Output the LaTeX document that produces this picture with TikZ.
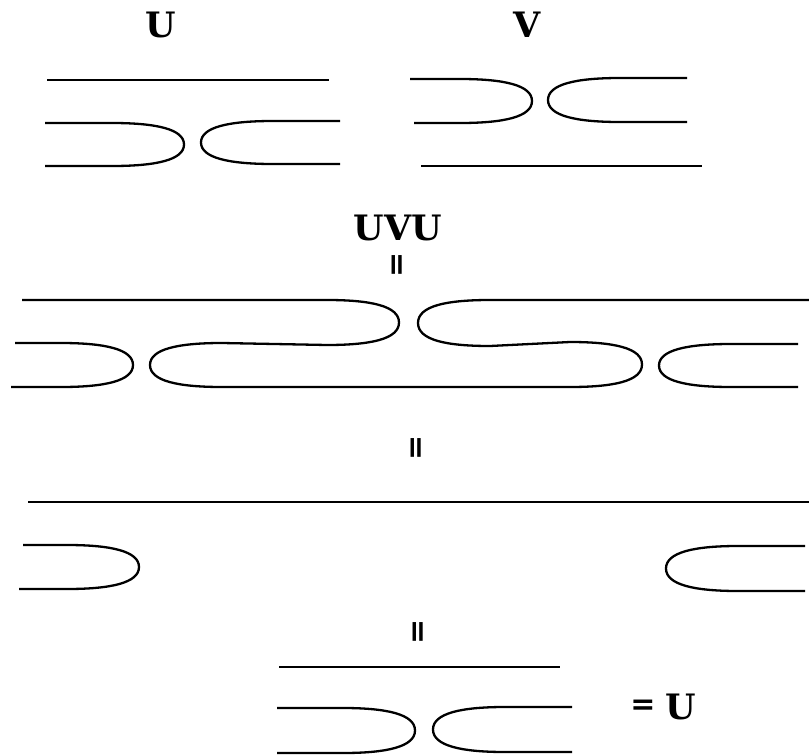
\documentclass[tikz,border=0pt]{standalone}
\usepackage{fontspec}
\newfontfamily\serifb{DejaVu Serif}
\newfontfamily\sansb{DejaVu Sans}
\tikzset{
  strand/.style={line width=2.3pt, black},
  lbl/.style={inner sep=0pt, font=\serifb\bfseries\fontsize{35}{35}\selectfont},
  eqv/.style={inner sep=0pt, rotate=90, font=\sansb\bfseries\fontsize{30}{30}\selectfont},
  eqh/.style={inner sep=0pt, font=\sansb\bfseries\fontsize{30}{30}\selectfont}
}
% cap opening to the left, ")" : x-start top, x-start bottom, x right, y top, y bottom
\newcommand\hairR[5]{\draw[strand] (#1,#4) -- ({#3-72},#4) .. controls ({#3-28},#4) and (#3,{(#4+#5)/2-0.36*(#5-#4)}) .. (#3,{(#4+#5)/2}) .. controls (#3,{(#4+#5)/2+0.36*(#5-#4)}) and ({#3-28},#5) .. ({#3-72},#5) -- (#2,#5);}
% cap opening to the right, "(" : x-end top, x-end bottom, x left, y top, y bottom
\newcommand\hairL[5]{\draw[strand] (#1,#4) -- ({#3+72},#4) .. controls ({#3+28},#4) and (#3,{(#4+#5)/2-0.36*(#5-#4)}) .. (#3,{(#4+#5)/2}) .. controls (#3,{(#4+#5)/2+0.36*(#5-#4)}) and ({#3+28},#5) .. ({#3+72},#5) -- (#2,#5);}
\begin{document}
\begin{tikzpicture}[x=1pt,y=-1pt]
\path[use as bounding box] (0,0) rectangle (809,755);

% labels
\node[lbl] (lu) at (161,25) {U};
\node[lbl] (lv) at (527,25) {V};
\node[lbl] (luvu) at (398,228) {UVU};
\node[eqv] (e1) at (399,265) {=};
\node[eqv] (e2) at (418,448) {=};
\node[eqv] (e3) at (420,632) {=};
\node[eqh] (e4) at (643,707) {=};
\node[lbl] (lu2) at (681,707) {U};

% panel U
\draw[strand] (47,80) -- (329,80);
\hairR{45}{45}{184}{123}{166}
\hairL{340}{340}{201}{121}{164}

% panel V
\hairR{410}{414}{532}{79}{123}
\hairL{687}{687}{548}{78}{122}
\draw[strand] (421,166) -- (702,166);

% panel UVU
\hairR{15}{11}{133}{343}{387}
\hairL{798}{798}{659}{344}{387}
\draw[strand] (22,300) -- (327,300)
  .. controls (371,300) and (399,306) .. (399,322.5)
  .. controls (399,339) and (371,345) .. (327,345)
  -- (222,343)
  .. controls (178,343) and (150,349) .. (150,365)
  .. controls (150,381) and (178,387) .. (222,387)
  -- (570,387)
  .. controls (614,387) and (642,381) .. (642,364.5)
  .. controls (642,348) and (614,342) .. (570,342)
  -- (490,346)
  .. controls (446,346) and (418,340) .. (418,323)
  .. controls (418,306) and (446,300) .. (490,300)
  -- (809,300);

% row 3
\draw[strand] (28,502) -- (809,502);
\hairR{23}{19}{139}{545}{589}
\hairL{805}{805}{666}{546}{591}

% row 4
\draw[strand] (279,667) -- (560,667);
\hairR{277}{277}{415}{708}{753}
\hairL{572}{572}{433}{707}{752}
\end{tikzpicture}
\end{document}
